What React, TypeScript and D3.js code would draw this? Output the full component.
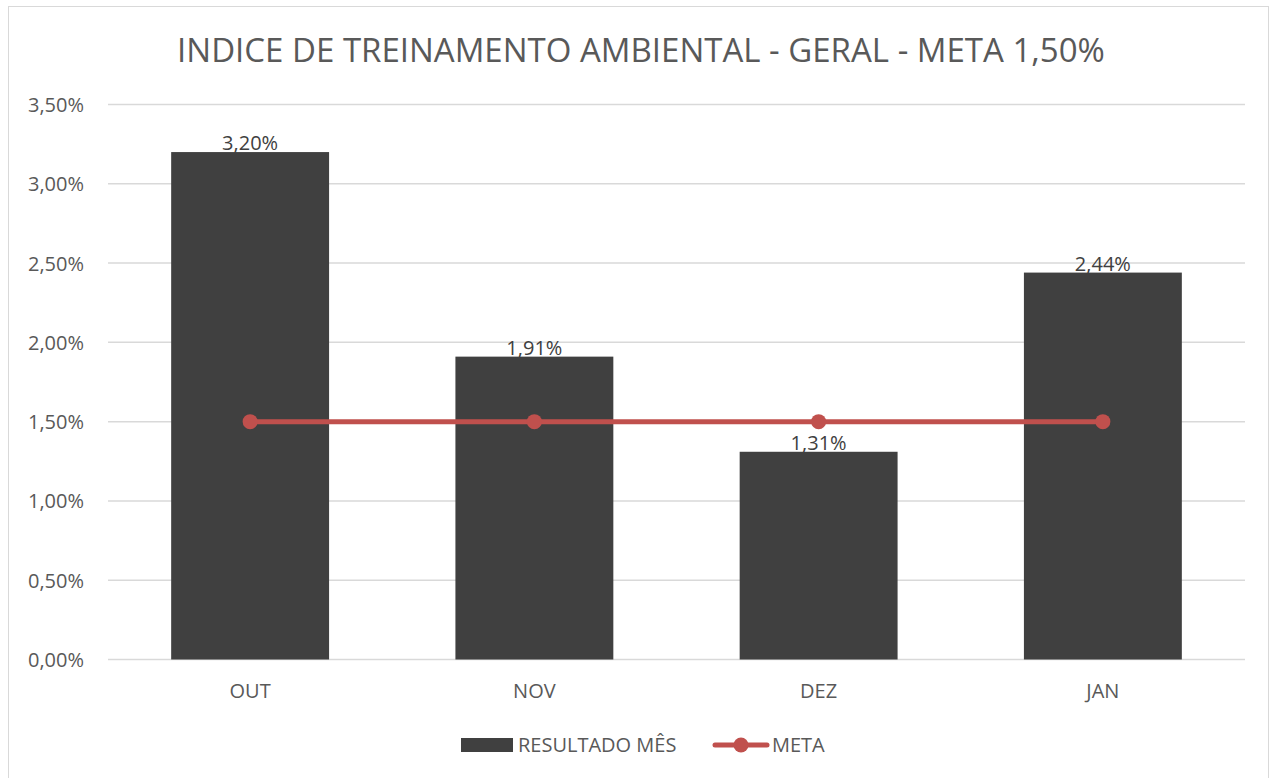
import { useEffect, useRef } from "react";
import * as d3 from "d3";

const months = ["OUT", "NOV", "DEZ", "JAN"];
const resultado = [3.2, 1.91, 1.31, 2.44];
const meta = [1.5, 1.5, 1.5, 1.5];
const yTicks = [0, 0.5, 1, 1.5, 2, 2.5, 3, 3.5];

const fmt = (v: number) => v.toFixed(2).replace(".", ",") + "%";

const App = () => {
  const ref = useRef<SVGSVGElement>(null);

  useEffect(() => {
    if (!ref.current) return;
    const svg = d3.select(ref.current);
    svg.selectAll("*").remove();

    const font = "'Open Sans', sans-serif";
    const textColor = "#595959";

    // outer frame
    svg
      .append("rect")
      .attr("x", 8.5)
      .attr("y", 6.5)
      .attr("width", 1260)
      .attr("height", 790)
      .attr("fill", "#fff")
      .attr("stroke", "#d9d9d9");

    svg
      .append("text")
      .attr("x", 641)
      .attr("y", 62)
      .attr("text-anchor", "middle")
      .style("font-family", font)
      .style("font-size", "33px")
      .attr("fill", textColor)
      .text("INDICE DE TREINAMENTO AMBIENTAL - GERAL - META 1,50%");

    const x = d3.scaleBand().domain(months).range([108, 1245]);
    const y = d3.scaleLinear().domain([0, 3.5]).range([659.5, 104.5]);
    const barW = x.bandwidth() / 1.8;

    // gridlines
    svg
      .append("g")
      .selectAll("line")
      .data(yTicks)
      .enter()
      .append("line")
      .attr("x1", 108)
      .attr("x2", 1245)
      .attr("y1", (d) => y(d))
      .attr("y2", (d) => y(d))
      .attr("stroke", "#d9d9d9")
      .attr("stroke-width", 1.5);

    svg
      .append("g")
      .selectAll("text")
      .data(yTicks)
      .enter()
      .append("text")
      .attr("x", 84)
      .attr("y", (d) => y(d) + 7.5)
      .attr("text-anchor", "end")
      .style("font-family", font)
      .style("font-size", "20px")
      .attr("fill", textColor)
      .text((d) => fmt(d));

    // bars
    svg
      .append("g")
      .selectAll("rect")
      .data(resultado)
      .enter()
      .append("rect")
      .attr("x", (_, i) => x(months[i])! + (x.bandwidth() - barW) / 2)
      .attr("width", barW)
      .attr("y", (d) => y(d))
      .attr("height", (d) => y(0) - y(d))
      .attr("fill", "#404040");

    // x labels
    svg
      .append("g")
      .selectAll("text")
      .data(months)
      .enter()
      .append("text")
      .attr("x", (d) => x(d)! + x.bandwidth() / 2)
      .attr("y", 698)
      .attr("text-anchor", "middle")
      .style("font-family", font)
      .style("font-size", "20px")
      .attr("fill", textColor)
      .text((d) => d);

    // meta line
    const line = d3
      .line<number>()
      .x((_, i) => x(months[i])! + x.bandwidth() / 2)
      .y((d) => y(d));

    svg
      .append("path")
      .datum(meta)
      .attr("d", line)
      .attr("fill", "none")
      .attr("stroke", "#c0504d")
      .attr("stroke-width", 5)
      .attr("stroke-linecap", "round");

    svg
      .append("g")
      .selectAll("circle")
      .data(meta)
      .enter()
      .append("circle")
      .attr("cx", (_, i) => x(months[i])! + x.bandwidth() / 2)
      .attr("cy", (d) => y(d))
      .attr("r", 7.5)
      .attr("fill", "#c0504d");

    // data labels
    svg
      .append("g")
      .selectAll("text")
      .data(resultado)
      .enter()
      .append("text")
      .attr("x", (_, i) => x(months[i])! + x.bandwidth() / 2)
      .attr("y", (d) => y(d) - 2)
      .attr("text-anchor", "middle")
      .style("font-family", font)
      .style("font-size", "20px")
      .attr("fill", "#404040")
      .text((d) => fmt(d));

    // legend
    const lg = svg.append("g");
    lg.append("rect")
      .attr("x", 461)
      .attr("y", 738)
      .attr("width", 52)
      .attr("height", 14)
      .attr("fill", "#404040");
    lg.append("text")
      .attr("x", 518)
      .attr("y", 752)
      .style("font-family", font)
      .style("font-size", "20px")
      .attr("fill", textColor)
      .text("RESULTADO MÊS");
    lg.append("line")
      .attr("x1", 715)
      .attr("x2", 767)
      .attr("y1", 745)
      .attr("y2", 745)
      .attr("stroke", "#c0504d")
      .attr("stroke-width", 5)
      .attr("stroke-linecap", "round");
    lg.append("circle")
      .attr("cx", 741)
      .attr("cy", 745)
      .attr("r", 7.5)
      .attr("fill", "#c0504d");
    lg.append("text")
      .attr("x", 772)
      .attr("y", 752)
      .style("font-family", font)
      .style("font-size", "20px")
      .attr("fill", textColor)
      .text("META");
  }, []);

  return (
    <svg
      ref={ref}
      width={1280}
      height={778}
      style={{ position: "absolute", left: 0, top: 0, display: "block" }}
    />
  );
};

export default App;
